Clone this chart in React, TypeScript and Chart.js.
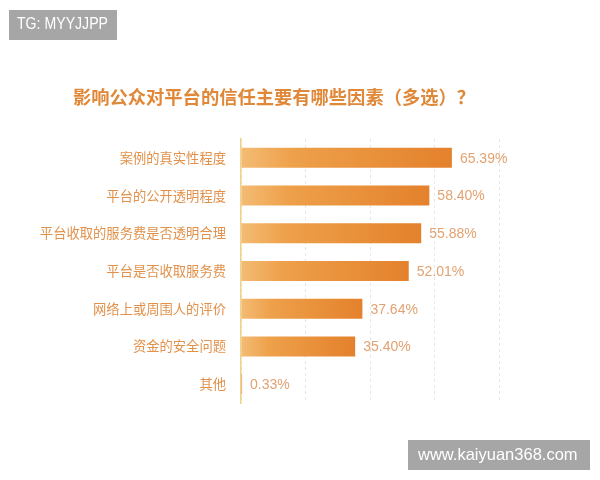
import React, { useEffect, useRef } from "react";
import { Chart, registerables } from "chart.js";

Chart.register(...registerables);

const categories = [
  "案例的真实性程度",
  "平台的公开透明程度",
  "平台收取的服务费是否透明合理",
  "平台是否收取服务费",
  "网络上或周围人的评价",
  "资金的安全问题",
  "其他",
];
const values = [65.39, 58.4, 55.88, 52.01, 37.64, 35.4, 0.33];
const valueLabels = ["65.39%", "58.40%", "55.88%", "52.01%", "37.64%", "35.40%", "0.33%"];
const titleText = "影响公众对平台的信任主要有哪些因素（多选）？";
const watermarkTop = "TG: MYYJJPP";
const watermarkBottom = "www.kaiyuan368.com";

const CJK = '"Noto Sans CJK SC", "Noto Sans", sans-serif';
const LATIN = '"Liberation Sans", Arial, sans-serif';

const overlayPlugin = {
  id: "overlay",
  afterDatasetsDraw(chart: any) {
    const ctx = chart.ctx;
    const meta = chart.getDatasetMeta(0);
    ctx.save();
    ctx.font = `14px ${LATIN}`;
    ctx.fillStyle = "#e2a271";
    ctx.textBaseline = "middle";
    ctx.textAlign = "left";
    meta.data.forEach((bar: any, i: number) => {
      ctx.fillText(valueLabels[i], bar.x + 8, bar.y + 1);
    });
    ctx.restore();
  },
  afterDraw(chart: any) {
    const ctx = chart.ctx;
    ctx.save();
    ctx.font = `bold 18.3px ${CJK}`;
    ctx.fillStyle = "#e08838";
    ctx.textAlign = "center";
    ctx.textBaseline = "middle";
    ctx.fillText(titleText, 274, 97);
    ctx.fillStyle = "#a6a6a6";
    ctx.fillRect(9, 10, 108, 30);
    ctx.fillRect(408, 440, 182, 30);
    ctx.fillStyle = "#ffffff";
    ctx.textAlign = "left";
    ctx.font = `16px ${LATIN}`;
    ctx.fillText(watermarkTop, 17, 25, 91);
    ctx.font = `16.5px ${LATIN}`;
    ctx.fillText(watermarkBottom, 418, 455, 161);
    ctx.restore();
  },
};

export default function App() {
  const ref = useRef<HTMLCanvasElement>(null);
  useEffect(() => {
    if (!ref.current) return;
    const chart = new Chart(ref.current, {
      type: "bar",
      data: {
        labels: categories,
        datasets: [
          {
            data: values,
            backgroundColor: (c: any) => {
              const ch = c.chart;
              const xs = ch.scales?.x;
              if (!xs || c.dataIndex === undefined) return "#e8862c";
              const x0 = xs.getPixelForValue(0);
              const x1 = xs.getPixelForValue(values[c.dataIndex]);
              if (!isFinite(x0) || !isFinite(x1)) return "#e8862c";
              const g = ch.ctx.createLinearGradient(x0, 0, Math.max(x1, x0 + 1), 0);
              g.addColorStop(0, "#f3bc74");
              g.addColorStop(0.25, "#eea04a");
              g.addColorStop(1, "#e4812c");
              return g;
            },
            borderWidth: 0,
            barPercentage: 0.53,
            categoryPercentage: 1,
          },
        ],
      },
      options: {
        indexAxis: "y",
        animation: false,
        responsive: false,
        layout: { padding: { left: 0, right: 101, top: 139, bottom: 77 } },
        plugins: { legend: { display: false }, title: { display: false }, tooltip: { enabled: false } },
        scales: {
          x: {
            min: 0,
            max: 80,
            ticks: { display: false, stepSize: 20 },
            grid: { color: "#e6e6e6", lineWidth: 1, drawTicks: false },
            border: { display: false, dash: [3, 3] },
          },
          y: {
            ticks: {
              color: "#e2914a",
              font: { size: 13.3, family: CJK },
              padding: 15,
            },
            grid: { display: false, drawTicks: false },
            border: { display: true, color: "#f1d185", width: 1.5 },
            afterFit: (s: any) => {
              s.width = 241;
            },
          },
        },
      },
      plugins: [overlayPlugin],
    } as any);
    return () => chart.destroy();
  }, []);
  return (
    <div style={{ position: "fixed", left: 0, top: 0, width: 600, height: 480, background: "#fff" }}>
      <canvas ref={ref} width={600} height={480} style={{ width: 600, height: 480 }} />
    </div>
  );
}
